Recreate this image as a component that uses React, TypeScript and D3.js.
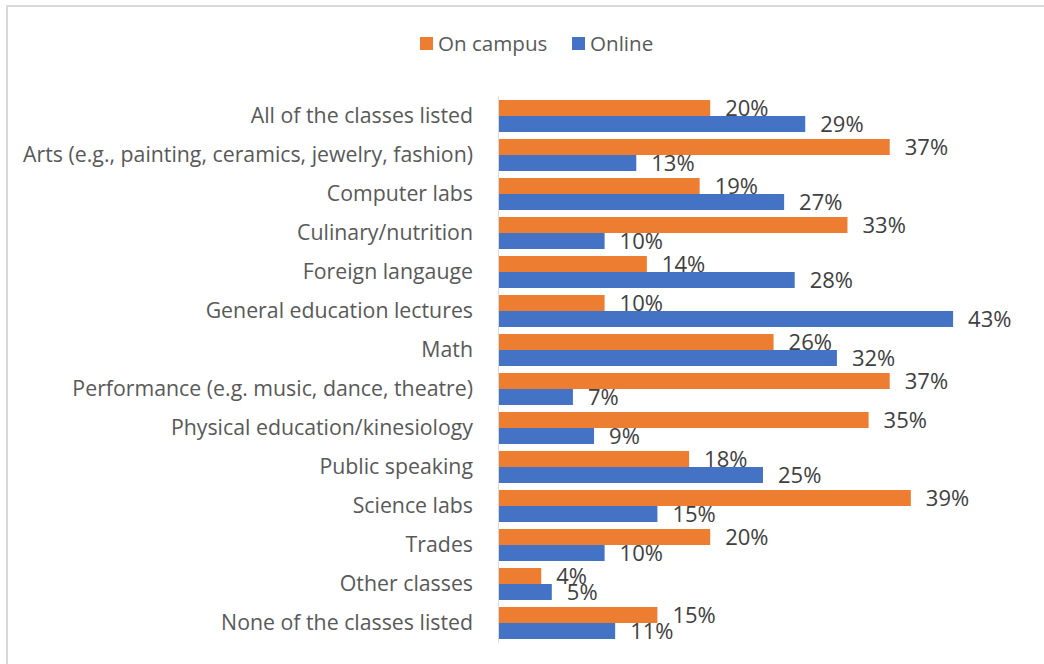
import React from "react";
import * as d3 from "d3";

const categories = [
  "All of the classes listed",
  "Arts (e.g., painting, ceramics, jewelry, fashion)",
  "Computer labs",
  "Culinary/nutrition",
  "Foreign langauge",
  "General education lectures",
  "Math",
  "Performance (e.g. music, dance, theatre)",
  "Physical education/kinesiology",
  "Public speaking",
  "Science labs",
  "Trades",
  "Other classes",
  "None of the classes listed",
];
const onCampus = [20, 37, 19, 33, 14, 10, 26, 37, 35, 18, 39, 20, 4, 15];
const online = [29, 13, 27, 10, 28, 43, 32, 7, 9, 25, 15, 10, 5, 11];
const seriesNames = ["On campus", "Online"];
const colors = ["#ED7D31", "#4472C4"];

const W = 1044;
const H = 664;
const left = 499;
const top = 96.5;
const bottom = 642.5;
const FONT = "'Open Sans', Lato, sans-serif";

export default function App() {
  const x = d3.scaleLinear().domain([0, 45]).range([left, left + 475.2]);
  const y = d3.scaleBand().domain(categories).range([top, bottom]).paddingInner(0.18).paddingOuter(0.09);
  const sub = d3.scaleBand().domain(seriesNames).range([0, y.bandwidth()]);
  const series = [onCampus, online];

  return (
    <svg
      width={W}
      height={H}
      style={{ position: "absolute", left: 0, top: 0, background: "#fff" }}
      fontFamily={FONT}
    >
      <rect x={7} y={6} width={W + 10} height={H + 10} fill="#fff" stroke="#D9D9D9" strokeWidth={2} />
      {/* legend */}
      <g>
        <rect x={420} y={37} width={13} height={13} fill={colors[0]} />
        <text x={438} y={44} dy="0.35em" fontSize={20.6} fill="#595959">{seriesNames[0]}</text>
        <rect x={572} y={37} width={13} height={13} fill={colors[1]} />
        <text x={590} y={44} dy="0.35em" fontSize={20.6} fill="#595959">{seriesNames[1]}</text>
      </g>
      {/* category labels */}
      {categories.map((c) => (
        <text
          key={c}
          x={473}
          y={(y(c) as number) + y.bandwidth() / 2}
          dy="0.35em"
          textAnchor="end"
          fontSize={21.3}
          fill="#595959"
        >
          {c}
        </text>
      ))}
      {/* bars */}
      {series.map((vals, si) =>
        categories.map((c, i) => {
          const by = (y(c) as number) + (sub(seriesNames[si]) as number);
          return (
            <g key={c + si}>
              <rect x={x(0)} y={by} width={x(vals[i]) - x(0)} height={sub.bandwidth()} fill={colors[si]} />
              <text
                x={x(vals[i]) + 15}
                y={by + sub.bandwidth() / 2}
                dy="0.36em"
                fontSize={22}
                fill="#404040"
              >
                {vals[i]}%
              </text>
            </g>
          );
        })
      )}
      <line x1={x(0) - 0.5} x2={x(0) - 0.5} y1={top} y2={bottom} stroke="#D9D9D9" strokeWidth={1} />
    </svg>
  );
}
